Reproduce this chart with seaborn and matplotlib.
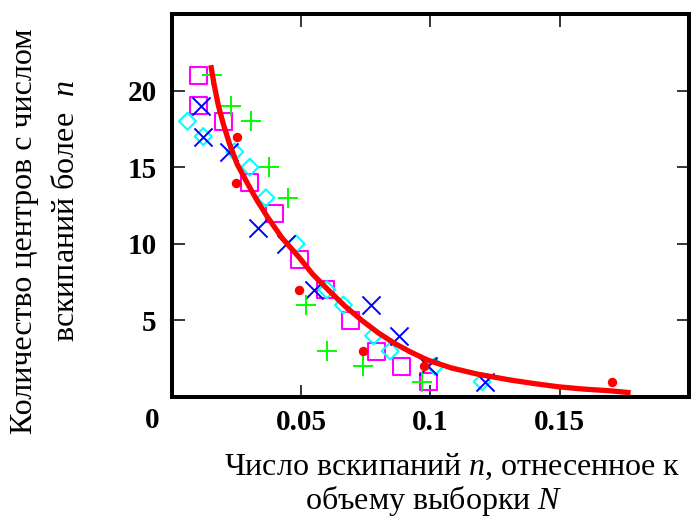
import matplotlib
matplotlib.use("Agg")
import matplotlib.pyplot as plt
import seaborn as sns

# ---- data ----
sq_x = [0.0103, 0.0103, 0.0199, 0.0301, 0.0398, 0.0494, 0.0594, 0.0690, 0.0793, 0.0889, 0.0992]
sq_y = [21, 19, 18, 14, 12, 9, 7, 5, 3, 2, 1]

dm_x = [0.0060, 0.0121, 0.0243, 0.0301, 0.0363, 0.0480, 0.0599, 0.0663, 0.0780, 0.0844, 0.1017, 0.1200]
dm_y = [18, 17, 16, 15, 13, 10, 7, 6, 4, 3, 2, 1]

xx_x = [0.0112, 0.0118, 0.0220, 0.0333, 0.0442, 0.0548, 0.0771, 0.0880, 0.0992, 0.1212]
xx_y = [19, 17, 16, 11, 10, 7, 6, 4, 2, 1]

pl_x = [0.0153, 0.0227, 0.0304, 0.0375, 0.0448, 0.0520, 0.0599, 0.0739, 0.0966]
pl_y = [21, 19, 18, 15, 13, 6, 3, 2, 1]

dot_x = [0.0252, 0.0248, 0.0490, 0.0737, 0.0976, 0.1704]
dot_y = [17, 14, 7, 3, 2, 1]

curve_x = [0.0150, 0.0164, 0.0179, 0.0198, 0.0222, 0.0252, 0.0292, 0.0330, 0.0369, 0.0425,
           0.0490, 0.0545, 0.0605, 0.0668, 0.0733, 0.0797, 0.0861, 0.0925, 0.0989, 0.1080,
           0.1180, 0.1308, 0.1400, 0.1493, 0.1590, 0.1690, 0.1774]
curve_y = [21.66, 20.30, 19.05, 17.85, 16.55, 15.20, 13.94, 12.80, 11.76, 10.40,
           9.15, 8.00, 6.98, 5.95, 5.02, 4.20, 3.50, 2.92, 2.41, 1.90,
           1.50, 1.11, 0.88, 0.67, 0.52, 0.41, 0.28]

x_ticks = [0.05, 0.1, 0.15]
x_ticklabels = ["0.05", "0.1", "0.15"]
y_ticks = [5, 10, 15, 20]
y_ticklabels = ["5", "10", "15", "20"]

xlabel_lines = ["Число вскипаний $\\mathit{n}$, отнесенное к", "объему выборки $\\mathit{N}$"]
ylabel_lines = ["Количество центров с числом", "вскипаний более  $\\mathit{n}$"]

# ---- style ----
sns.set_theme(style="ticks")
plt.rcParams["font.family"] = ["Liberation Serif", "DejaVu Serif"]
plt.rcParams["mathtext.fontset"] = "custom"
plt.rcParams["mathtext.it"] = "Liberation Serif:italic"
plt.rcParams["mathtext.rm"] = "Liberation Serif"
plt.rcParams["text.color"] = "black"

W, H = 691, 529
fig = plt.figure(figsize=(W / 100, H / 100), dpi=100)
ax = fig.add_axes([172 / W, 1 - 397 / H, (689 - 172) / W, (397 - 14) / H])

sns.scatterplot(x=sq_x, y=sq_y, marker="s", s=150, facecolor="none",
                edgecolor="#ff00ff", linewidth=1.5, ax=ax, zorder=3)
sns.scatterplot(x=dm_x, y=dm_y, marker="D", s=75, facecolor="none",
                edgecolor="#00ffff", linewidth=1.5, ax=ax, zorder=3)
sns.scatterplot(x=xx_x, y=xx_y, marker="x", s=170, color="#0000ff",
                linewidth=1.4, ax=ax, zorder=3)
sns.scatterplot(x=pl_x, y=pl_y, marker="+", s=190, color="#00ff00",
                linewidth=1.4, ax=ax, zorder=3)
sns.scatterplot(x=dot_x, y=dot_y, marker="o", s=46, color="#ff0000",
                linewidth=0, ax=ax, zorder=3)
sns.lineplot(x=curve_x, y=curve_y, color="#ff0000", linewidth=3.8,
             sort=False, estimator=None, ax=ax, zorder=4,
             solid_joinstyle="round", solid_capstyle="butt")

ax.set_xlim(0, 0.2)
ax.set_ylim(0, 25)
ax.set_xticks(x_ticks)
ax.set_xticklabels(x_ticklabels)
ax.set_yticks(y_ticks)
ax.set_yticklabels(y_ticklabels)
ax.set_xlabel("")
ax.set_ylabel("")

for sp in ax.spines.values():
    sp.set_linewidth(2.9)
    sp.set_color("black")
    sp.set_visible(True)

ax.tick_params(axis="both", which="major", direction="in", length=9, width=1.1,
               top=True, right=True, labelsize=21, colors="black")
ax.tick_params(axis="x", pad=9)
ax.tick_params(axis="y", pad=11)
for lab in ax.get_xticklabels() + ax.get_yticklabels():
    lab.set_fontweight("bold")

fig.text(152 / W, 1 - 420 / H, "0", ha="center", va="center",
         fontsize=21, fontweight="bold", color="black")

fs = 23
fig.text(452 / W, 1 - 467 / H, xlabel_lines[0], ha="center", va="center", fontsize=fs, color="black")
fig.text(434 / W, 1 - 501 / H, xlabel_lines[1], ha="center", va="center", fontsize=fs, color="black")

fig.text(25 / W, 1 - 231 / H, ylabel_lines[0], ha="center", va="center",
         rotation=90, fontsize=fs, color="black")
fig.text(67 / W, 1 - 211 / H, ylabel_lines[1], ha="center", va="center",
         rotation=90, fontsize=fs, color="black")

fig.savefig("out.png", dpi=100)
